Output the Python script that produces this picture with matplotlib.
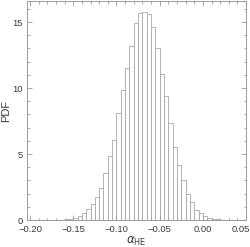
import numpy as np
import matplotlib
matplotlib.use("Agg")
import matplotlib.pyplot as plt
import matplotlib.transforms as mtransforms
from matplotlib.ticker import MultipleLocator

# Histogram data (PDF)
bin_start = -0.17
bin_width = 0.005
pdf_heights = [0.01, 0.02, 0.05, 0.10, 0.17, 0.32, 0.55, 0.80, 1.18, 1.76,
               2.46, 3.57, 4.82, 6.08, 8.12, 9.85, 11.50, 13.19, 14.90, 15.70,
               15.80, 15.58, 14.62, 13.05, 11.10, 9.42, 7.36, 5.53, 4.14, 3.00,
               2.00, 1.38, 0.78, 0.50, 0.27, 0.15, 0.08, 0.05, 0.03, 0.02]
x_ticks = [-0.20, -0.15, -0.10, -0.05, 0.00, 0.05]
x_tick_labels = ["\u22120.20", "\u22120.15", "\u22120.10", "\u22120.05", "0.00", "0.05"]
y_ticks = [0, 5, 10, 15]

plt.rcParams['font.family'] = ['Liberation Sans', 'DejaVu Sans']

fig = plt.figure(figsize=(2.51, 2.47), dpi=100)
ax = fig.add_axes([27/251, 1 - 220/247, (246.5-27)/251, (220-1)/247])

edges = bin_start + bin_width * np.arange(len(pdf_heights))
ax.bar(edges, pdf_heights, width=bin_width, align='edge',
       facecolor='white', edgecolor='#a8a8a8', linewidth=0.6)

ax.set_xlim(-0.2035, 0.0505)
ax.set_ylim(0, 16.6)

ax.set_xticks(x_ticks)
ax.set_xticklabels(x_tick_labels)
ax.set_yticks(y_ticks)
ax.xaxis.set_minor_locator(MultipleLocator(0.01))
ax.yaxis.set_minor_locator(MultipleLocator(1))

frame_col = '#9a9a9a'
for s in ax.spines.values():
    s.set_color(frame_col)
    s.set_linewidth(0.7)

ax.tick_params(which='both', direction='in', top=True, right=True,
               color=frame_col, labelcolor='#3a3a3a', labelsize=6.8, width=0.6)
ax.tick_params(which='major', length=3.5)
ax.tick_params(axis='x', which='major', pad=3.5)
ax.tick_params(axis='y', which='major', pad=3)
ax.tick_params(which='minor', length=1.8)

# keep the last x tick label inside the picture
last = ax.get_xticklabels()[-1]
last.set_horizontalalignment('right')
last.set_transform(last.get_transform() +
                   mtransforms.ScaledTranslation(3.5/100, 0, fig.dpi_scale_trans))

ax.set_ylabel('PDF', fontsize=8, color='#3a3a3a', labelpad=0.8)
ax.set_xlabel(r'$\alpha_{\mathrm{HE}}$', fontsize=8.5, color='#3a3a3a', labelpad=0.5)

fig.savefig('out.png', dpi=100)
